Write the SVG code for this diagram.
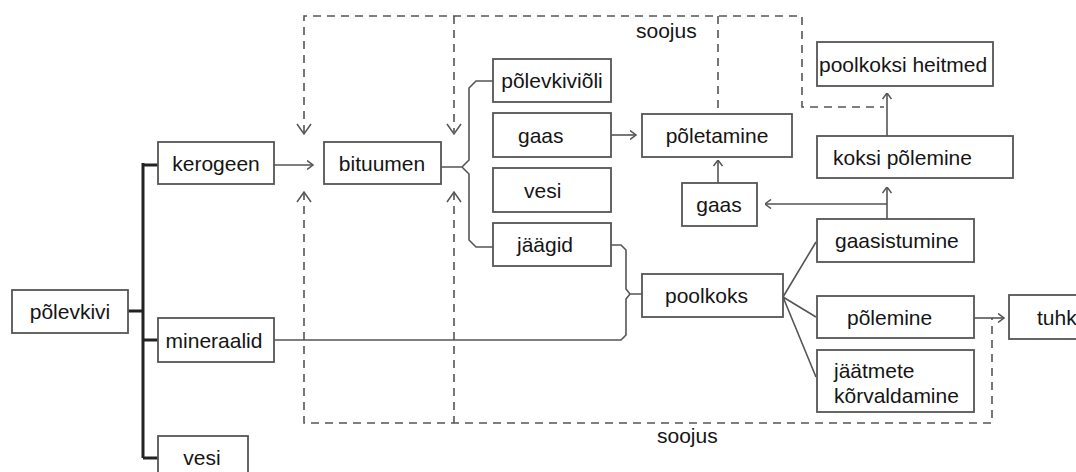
<svg xmlns="http://www.w3.org/2000/svg" width="1076" height="472" viewBox="0 0 1076 472">
  <defs>
    <style>
      .box { fill: #ffffff; stroke: #555555; stroke-width: 1.8; }
      .lbl { font-family: "Liberation Sans", Arial, sans-serif; font-size: 21px; fill: #151515; }
      .c { text-anchor: middle; }
      .line { fill: none; stroke: #555555; stroke-width: 1.6; }
      .bus { fill: none; stroke: #222222; stroke-width: 3; }
      .dash { fill: none; stroke: #555555; stroke-width: 1.6; stroke-dasharray: 8 6; }
      .chev { fill: none; stroke: #555555; stroke-width: 1.5; }
      .arr { marker-end: url(#open); }
    </style>
    <marker id="open" viewBox="0 0 7 10" refX="6.5" refY="5" markerWidth="7" markerHeight="10" orient="auto" markerUnits="userSpaceOnUse">
      <path d="M0.5,0.5 L6.5,5 L0.5,9.5" fill="none" stroke="#555555" stroke-width="1.5"/>
    </marker>
  </defs>

  <rect width="1076" height="472" fill="#ffffff"/>

  <!-- connectors -->
  <g id="connectors">
    <!-- heat return loops (dashed) -->
    <path class="dash" d="M304,133 V16 H802 V107 H884"/>
    <path class="dash" d="M454,16 V132"/>
    <path class="dash" d="M718,16 V111"/>
    <path class="dash" d="M304,192 V423 H992 V318"/>
    <path class="dash" d="M454,192 V423"/>
    <path class="chev" d="M297,124 L304,134 L311,124"/>
    <path class="chev" d="M447,124 L454,134 L461,124"/>
    <path class="chev" d="M297,202 L304,192 L311,202"/>
    <path class="chev" d="M447,202 L454,192 L461,202"/>

    <!-- oil shale components -->
    <path class="bus" d="M128,311 H143 M143,163 V458 M143,165 H158 M143,340 H158 M143,458 H158"/>

    <!-- kerogen to bitumen -->
    <path class="line arr" d="M274,165 H313"/>

    <!-- bitumen products brace -->
    <path class="line" d="M441,167 H462 L469,160 V88 L476,81 H493 M462,167 L469,174 V240 L476,247 H493"/>

    <!-- residue + minerals brace into semi-coke -->
    <path class="line" d="M611,245 H621 L626,250 V289 L630,294 L626,299 V335 L621,340 H274 M630,294 H655"/>

    <!-- gas to combustion -->
    <path class="line arr" d="M611,135 H636"/>
    <path class="line arr" d="M718,183 V160"/>

    <!-- semi-coke branches -->
    <path class="line" d="M783,297 L816,242 M783,297 L816,317 M783,297 L816,377"/>

    <!-- gasification outputs -->
    <path class="line arr" d="M887,219 V187"/>
    <path class="line arr" d="M887,204 H765"/>
    <path class="line arr" d="M887,136 V93"/>

    <!-- combustion to ash -->
    <path class="line arr" d="M974,318 H1004"/>
  </g>

  <!-- nodes -->
  <g id="polevkivi"><rect class="box" x="12" y="290" width="116" height="43"/><text class="lbl c" x="70" y="319">põlevkivi</text></g>
  <g id="kerogeen"><rect class="box" x="158" y="142" width="116" height="42"/><text class="lbl c" x="216" y="171">kerogeen</text></g>
  <g id="mineraalid"><rect class="box" x="158" y="318" width="116" height="44"/><text class="lbl c" x="214" y="348">mineraalid</text></g>
  <g id="vesi1"><rect class="box" x="158" y="436" width="90" height="44"/><text class="lbl c" x="202" y="465">vesi</text></g>
  <g id="bituumen"><rect class="box" x="324" y="142" width="117" height="42"/><text class="lbl c" x="382" y="171">bituumen</text></g>
  <g id="polevkivioli"><rect class="box" x="493" y="59" width="118" height="43"/><text class="lbl c" x="552" y="88">põlevkiviõli</text></g>
  <g id="gaas1"><rect class="box" x="493" y="113" width="118" height="44"/><text class="lbl" x="518" y="143">gaas</text></g>
  <g id="vesi2"><rect class="box" x="493" y="168" width="118" height="44"/><text class="lbl" x="524" y="198">vesi</text></g>
  <g id="jaagid"><rect class="box" x="493" y="223" width="118" height="43"/><text class="lbl" x="517" y="252">jäägid</text></g>
  <g id="poletamine"><rect class="box" x="642" y="114" width="150" height="43"/><text class="lbl c" x="717" y="143">põletamine</text></g>
  <g id="gaas2"><rect class="box" x="682" y="183" width="75" height="43"/><text class="lbl c" x="719" y="212">gaas</text></g>
  <g id="poolkoks"><rect class="box" x="642" y="274" width="141" height="43"/><text class="lbl" x="665" y="303">poolkoks</text></g>
  <g id="heitmed"><rect class="box" x="817" y="42" width="176" height="44"/><text class="lbl" x="819" y="72">poolkoksi heitmed</text></g>
  <g id="koksipolemine"><rect class="box" x="817" y="136" width="196" height="42"/><text class="lbl" x="833" y="165">koksi põlemine</text></g>
  <g id="gaasistumine"><rect class="box" x="817" y="219" width="157" height="43"/><text class="lbl" x="835" y="248">gaasistumine</text></g>
  <g id="polemine"><rect class="box" x="817" y="296" width="157" height="42"/><text class="lbl" x="847" y="325">põlemine</text></g>
  <g id="jaatmed"><rect class="box" x="817" y="350" width="157" height="62"/><text class="lbl" x="834" y="378">jäätmete</text><text class="lbl" x="834" y="403">kõrvaldamine</text></g>
  <g id="tuhk"><rect class="box" x="1009" y="295" width="90" height="44"/><text class="lbl" x="1037" y="325">tuhk</text></g>

  <!-- heat labels -->
  <g id="soojus-top"><text class="lbl" x="636" y="38">soojus</text></g>
  <g id="soojus-bottom"><text class="lbl" x="657" y="443">soojus</text></g>
</svg>
